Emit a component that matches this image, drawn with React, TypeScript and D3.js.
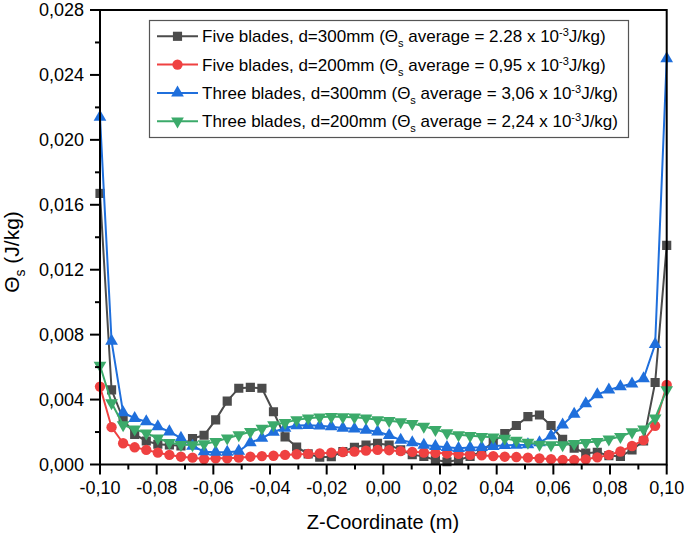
import React from "react";
import * as d3 from "d3";

const zCoord = [
  -0.1, -0.09592, -0.09184, -0.08776, -0.08367, -0.07959, -0.07551, -0.07143, -0.06735, -0.06327,
  -0.05918, -0.0551, -0.05102, -0.04694, -0.04286, -0.03878, -0.03469, -0.03061, -0.02653, -0.02245,
  -0.01837, -0.01429, -0.0102, -0.00612, -0.00204, 0.00204, 0.00612, 0.0102, 0.01429, 0.01837,
  0.02245, 0.02653, 0.03061, 0.03469, 0.03878, 0.04286, 0.04694, 0.05102, 0.0551, 0.05918,
  0.06327, 0.06735, 0.07143, 0.07551, 0.07959, 0.08367, 0.08776, 0.09184, 0.09592, 0.1,
];

// values in 10^-3 J/kg
const fiveBlades300 = [
  16.7, 4.6, 2.8, 1.85, 1.45, 1.25, 1.2, 1.15, 1.6, 1.8,
  2.75, 3.9, 4.7, 4.75, 4.7, 3.25, 1.7, 1.08, 0.65, 0.45,
  0.48, 0.8, 1.06, 1.2, 1.3, 1.2, 0.9, 0.6, 0.5, 0.28,
  0.17, 0.28, 0.5, 0.8, 1.4, 1.9, 2.4, 2.95, 3.05, 2.4,
  1.55, 1.0, 0.7, 0.75, 0.55, 0.5, 0.9, 1.45, 5.05, 13.5,
];
const fiveBlades200 = [
  4.8, 2.3, 1.31, 1.06, 0.9, 0.73, 0.59, 0.48, 0.42, 0.34,
  0.38, 0.38, 0.42, 0.48, 0.52, 0.54, 0.59, 0.63, 0.65, 0.69,
  0.73, 0.77, 0.79, 0.85, 0.9, 0.88, 0.82, 0.78, 0.74, 0.72,
  0.68, 0.65, 0.6, 0.56, 0.52, 0.48, 0.46, 0.42, 0.38, 0.33,
  0.28, 0.28, 0.32, 0.44, 0.59, 0.8, 1.14, 1.5, 2.38, 4.9,
];
const threeBlades300 = [
  21.4, 7.6, 3.2, 2.85, 2.64, 2.33, 2.02, 1.62, 1.14, 0.79,
  0.76, 0.76, 0.82, 1.35, 1.62, 2.0, 2.25, 2.4, 2.42, 2.38,
  2.33, 2.25, 2.2, 2.12, 2.02, 1.8, 1.5, 1.35, 1.2, 1.12,
  1.06, 1.0, 1.04, 1.06, 1.12, 1.18, 1.2, 1.22, 1.35, 1.76,
  2.44, 3.1, 3.75, 4.3, 4.6, 4.8, 4.97, 5.3, 7.4, 25.0,
];
const threeBlades200 = [
  6.1, 3.8, 2.44, 2.17, 1.93, 1.62, 1.35, 1.22, 1.2, 1.27,
  1.41, 1.62, 1.82, 2.02, 2.23, 2.44, 2.58, 2.75, 2.85, 2.91,
  2.95, 2.93, 2.91, 2.85, 2.75, 2.7, 2.62, 2.52, 2.35, 2.15,
  1.95, 1.83, 1.77, 1.72, 1.68, 1.6, 1.48, 1.36, 1.24, 1.2,
  1.2, 1.28, 1.35, 1.41, 1.56, 1.72, 2.0, 2.17, 2.85, 4.6,
];

const seriesNames = ["Five blades, d=300mm", "Five blades, d=200mm", "Three blades, d=300mm", "Three blades, d=200mm"];
const seriesAverages = ["2.28", "0,95", "3,06", "2,24"];
const seriesColors = ["#4B4B4B", "#EF4141", "#1F6FDC", "#3BAA6A"];
const seriesSymbols = ["square", "circle", "triangle", "triangleDown"];

const yTicks = [0, 0.004, 0.008, 0.012, 0.016, 0.02, 0.024, 0.028];
const xTicks = [-0.1, -0.08, -0.06, -0.04, -0.02, 0, 0.02, 0.04, 0.06, 0.08, 0.1];

const FONT = "'Liberation Sans', Arial, Helvetica, sans-serif";

function fmt(v: number, digits: number) {
  return v.toFixed(digits).replace(".", ",").replace("-0,00", "0,00");
}

function symbolPath(kind: string) {
  if (kind === "square") return d3.symbol(d3.symbolSquare, 84)() as string;
  if (kind === "circle") return d3.symbol(d3.symbolCircle, 84)() as string;
  return d3.symbol(d3.symbolTriangle, 70)() as string;
}

export default function App() {
  const left = 100, right = 666.7, top = 10, bottom = 464.5;
  const x = d3.scaleLinear().domain([-0.1, 0.1]).range([left, right]);
  const y = d3.scaleLinear().domain([0, 0.028]).range([bottom, top]);
  const data = [fiveBlades300, fiveBlades200, threeBlades300, threeBlades200];
  const line = d3.line<number>().x((_, i) => x(zCoord[i])).y((d) => y(d / 1000));

  const xMinor = d3.range(-0.1, 0.1001, 0.01);
  const yMinor = d3.range(0, 0.0281, 0.002);

  return (
    <svg width={685} height={539} style={{ position: "absolute", left: 0, top: 0, background: "#fff" }} fontFamily={FONT}>
      <defs>
        <clipPath id="plotclip">
          <rect x={left - 8} y={top - 10} width={right - left + 16} height={bottom - top + 20} />
        </clipPath>
      </defs>
      {/* series */}
      <g clipPath="url(#plotclip)">
        {data.map((vals, s) => (
          <g key={s}>
            <path d={line(vals) as string} fill="none" stroke={seriesColors[s]} strokeWidth={2} />
            {vals.map((v, i) => (
              <path
                key={i}
                d={symbolPath(seriesSymbols[s])}
                transform={`translate(${x(zCoord[i])},${y(v / 1000)})${seriesSymbols[s] === "triangleDown" ? " rotate(180)" : ""}`}
                fill={seriesColors[s]}
              />
            ))}
          </g>
        ))}
      </g>
      {/* frame */}
      <rect x={left} y={top} width={right - left} height={bottom - top} fill="none" stroke="#000" strokeWidth={2} />
      {/* y ticks */}
      {yMinor.map((v, i) => (
        <line key={"ym" + i} x1={left} x2={left - (i % 2 === 0 ? 10 : 5)} y1={y(v)} y2={y(v)} stroke="#000" strokeWidth={2} />
      ))}
      {yTicks.map((v) => (
        <text key={"yt" + v} x={84} y={y(v)} dy="0.36em" textAnchor="end" fontSize={18} fill="#000">
          {fmt(v, 3)}
        </text>
      ))}
      {/* x ticks */}
      {xMinor.map((v, i) => (
        <line key={"xm" + i} x1={x(v)} x2={x(v)} y1={bottom} y2={bottom + (i % 2 === 0 ? 10 : 5)} stroke="#000" strokeWidth={2} />
      ))}
      {xTicks.map((v) => (
        <text key={"xt" + v} x={x(v)} y={494} textAnchor="middle" fontSize={18} fill="#000">
          {fmt(v, 2)}
        </text>
      ))}
      {/* axis titles */}
      <text x={383} y={529} textAnchor="middle" fontSize={20} fill="#000">Z-Coordinate (m)</text>
      <text transform="translate(19,252) rotate(-90)" textAnchor="middle" fontSize={21} fill="#000">
        Θ<tspan fontSize={14} dy={6}>s</tspan><tspan dy={-6}> (J/kg)</tspan>
      </text>
      {/* legend */}
      <rect x={149.5} y={20.5} width={479} height={117} fill="#fff" stroke="#555" strokeWidth={1.2} />
      {seriesNames.map((name, s) => {
        const ly = 36.3 + s * 28.3;
        return (
          <g key={"lg" + s}>
            <line x1={157} x2={198} y1={ly} y2={ly} stroke={seriesColors[s]} strokeWidth={2} />
            <path
              d={symbolPath(seriesSymbols[s])}
              transform={`translate(177.5,${ly})${seriesSymbols[s] === "triangleDown" ? " rotate(180)" : ""}`}
              fill={seriesColors[s]}
            />
            <text x={202} y={ly + 6} fontSize={17} fill="#000">
              {name} (Θ<tspan fontSize={11} dy={5}>s</tspan>
              <tspan dy={-5}> average = {seriesAverages[s]} x 10</tspan>
              <tspan fontSize={11} dy={-6}>-3</tspan>
              <tspan dy={6}>J/kg)</tspan>
            </text>
          </g>
        );
      })}
    </svg>
  );
}
